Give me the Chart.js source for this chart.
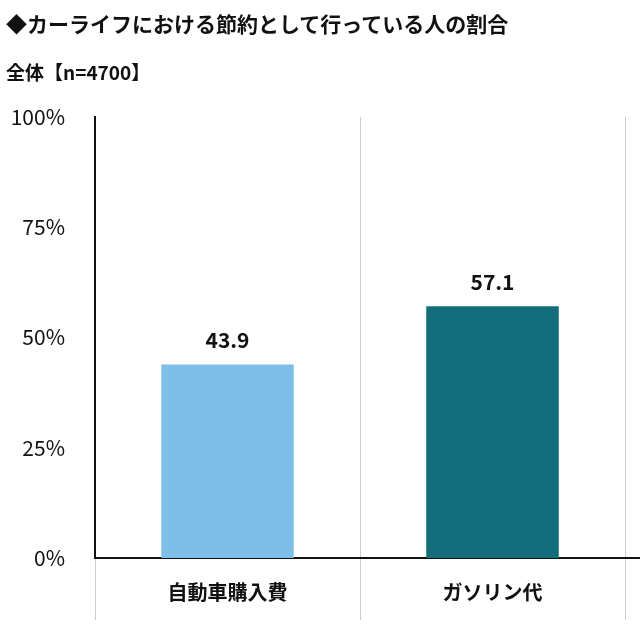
<!DOCTYPE html>
<html>
<head>
<meta charset="utf-8">
<script src="https://cdn.jsdelivr.net/npm/chart.js@4"></script>
<style>
  html, body { margin: 0; width: 640px; height: 640px; overflow: hidden; background: #fff; }
  body { position: relative; font-family: "Noto Sans CJK JP", sans-serif; }
  #wrap { position: absolute; left: 0; top: 0; width: 900px; height: 640px; }
  .t { position: absolute; left: 6px; font-weight: bold; color: #111; white-space: nowrap; }
</style>
</head>
<body>
<div id="wrap"><canvas id="c"></canvas></div>
<div class="t" style="top:8px;font-size:21px;">◆カーライフにおける節約として行っている人の割合</div>
<div class="t" style="top:58px;font-size:19px;">全体【n=4700】</div>
<script>
const categories = ['自動車購入費', 'ガソリン代', ''];
const values = [43.9, 57.1, null];
const barColors = ['#7dbfe9', '#136d7b', '#888888'];
const yTicks = [0, 25, 50, 75, 100];

const valueLabels = {
  id: 'valueLabels',
  afterDatasetsDraw(chart) {
    const ctx = chart.ctx;
    const meta = chart.getDatasetMeta(0);
    ctx.save();
    ctx.font = 'bold 21px "Noto Sans CJK JP", sans-serif';
    ctx.fillStyle = '#111';
    ctx.textAlign = 'center';
    ctx.textBaseline = 'bottom';
    meta.data.forEach((bar, i) => {
      if (values[i] == null) return;
      ctx.fillText(values[i].toFixed(1), bar.x, bar.y - 14);
    });
    ctx.restore();
  }
};

new Chart(document.getElementById('c'), {
  type: 'bar',
  data: {
    labels: categories,
    datasets: [{
      data: values,
      backgroundColor: barColors,
      categoryPercentage: 1,
      barPercentage: 0.5
    }]
  },
  options: {
    responsive: true,
    maintainAspectRatio: false,
    animation: false,
    layout: { padding: { top: 117, right: 10 } },
    plugins: { legend: { display: false }, tooltip: { enabled: false } },
    scales: {
      y: {
        min: 0, max: 100,
        afterFit: s => { s.width = 95; },
        afterBuildTicks: s => { s.ticks = yTicks.map(v => ({ value: v })); },
        ticks: {
          callback: v => v + '%',
          color: '#111',
          padding: 22,
          font: { size: 21, family: '"Noto Sans CJK JP", sans-serif' }
        },
        grid: { display: false },
        border: { color: '#111', width: 2 }
      },
      x: {
        afterFit: s => { s.height = 82; },
        offset: true,
        ticks: {
          color: '#111',
          padding: -40,
          font: { size: 20, weight: 'bold', family: '"Noto Sans CJK JP", sans-serif' }
        },
        grid: { offset: true, color: '#cccccc', lineWidth: 1, tickLength: 62, drawOnChartArea: true },
        border: { color: '#111', width: 2 }
      }
    }
  },
  plugins: [valueLabels]
});
</script>
</body>
</html>
